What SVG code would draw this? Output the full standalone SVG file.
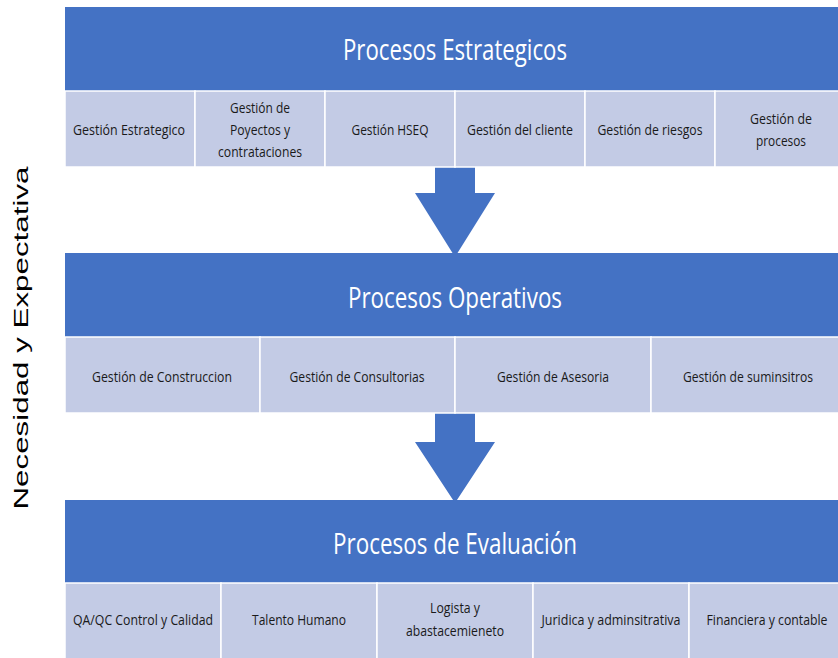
<svg xmlns="http://www.w3.org/2000/svg" width="838" height="658" viewBox="0 0 838 658">
<style>
.hdr{fill:#4472C4}
.cell{fill:#C3CBE5;stroke:#FFFFFF;stroke-width:1.5}
.title{font-family:"Open Sans","Liberation Sans",sans-serif;font-size:29px;fill:#FFFFFF;text-anchor:middle}
.t{font-family:"Open Sans","Liberation Sans",sans-serif;font-size:14.5px;fill:#1a1a1a;text-anchor:middle}
.arrow{fill:#4472C4}
.side{font-family:"Liberation Sans",Arial,sans-serif;font-size:21px;fill:#000000;text-anchor:middle}
</style>
<rect width="838" height="658" fill="#FFFFFF"/>

<g id="connectors">
  <polygon class="arrow" points="435,166 475,166 475,193 495,193 455,257 415,193 435,193"/>
  <polygon class="arrow" points="435,412 475,412 475,442 495,442 455,503 415,442 435,442"/>
</g>

<g id="estrategicos">
  <rect class="hdr" x="65" y="7" width="780" height="84"/>
  <text class="title" x="455" y="60" textLength="224" lengthAdjust="spacingAndGlyphs">Procesos Estrategicos</text>
</g>
<g id="est-1"><rect class="cell" x="65" y="91" width="130" height="76"/><text class="t" x="129" y="135" textLength="112" lengthAdjust="spacingAndGlyphs">Gestión Estrategico</text></g>
<g id="est-2"><rect class="cell" x="195" y="91" width="130" height="76"/>
  <text class="t" x="260" y="113" textLength="60" lengthAdjust="spacingAndGlyphs">Gestión de</text>
  <text class="t" x="260" y="135" textLength="60" lengthAdjust="spacingAndGlyphs">Poyectos y</text>
  <text class="t" x="260" y="157" textLength="84" lengthAdjust="spacingAndGlyphs">contrataciones</text></g>
<g id="est-3"><rect class="cell" x="325" y="91" width="130" height="76"/><text class="t" x="390" y="135" textLength="77" lengthAdjust="spacingAndGlyphs">Gestión HSEQ</text></g>
<g id="est-4"><rect class="cell" x="455" y="91" width="130" height="76"/><text class="t" x="520" y="135" textLength="106" lengthAdjust="spacingAndGlyphs">Gestión del cliente</text></g>
<g id="est-5"><rect class="cell" x="585" y="91" width="130" height="76"/><text class="t" x="650" y="135" textLength="105" lengthAdjust="spacingAndGlyphs">Gestión de riesgos</text></g>
<g id="est-6"><rect class="cell" x="715" y="91" width="130" height="76"/>
  <text class="t" x="781" y="124" textLength="62" lengthAdjust="spacingAndGlyphs">Gestión de</text>
  <text class="t" x="781" y="146" textLength="50" lengthAdjust="spacingAndGlyphs">procesos</text></g>

<g id="operativos">
  <rect class="hdr" x="65" y="253" width="780" height="84"/>
  <text class="title" x="455" y="308" textLength="214" lengthAdjust="spacingAndGlyphs">Procesos Operativos</text>
</g>
<g id="op-1"><rect class="cell" x="65" y="337" width="195" height="76"/><text class="t" x="162" y="382" textLength="140" lengthAdjust="spacingAndGlyphs">Gestión de Construccion</text></g>
<g id="op-2"><rect class="cell" x="260" y="337" width="195" height="76"/><text class="t" x="357" y="382" textLength="135" lengthAdjust="spacingAndGlyphs">Gestión de Consultorias</text></g>
<g id="op-3"><rect class="cell" x="455" y="337" width="196" height="76"/><text class="t" x="553" y="382" textLength="112" lengthAdjust="spacingAndGlyphs">Gestión de Asesoria</text></g>
<g id="op-4"><rect class="cell" x="651" y="337" width="194" height="76"/><text class="t" x="748" y="382" textLength="130" lengthAdjust="spacingAndGlyphs">Gestión de suminsitros</text></g>

<g id="evaluacion">
  <rect class="hdr" x="65" y="500" width="780" height="83"/>
  <text class="title" x="455" y="554" textLength="244" lengthAdjust="spacingAndGlyphs">Procesos de Evaluación</text>
</g>
<g id="ev-1"><rect class="cell" x="65" y="583" width="156" height="76"/><text class="t" x="143" y="625" textLength="140" lengthAdjust="spacingAndGlyphs">QA/QC Control y Calidad</text></g>
<g id="ev-2"><rect class="cell" x="221" y="583" width="156" height="76"/><text class="t" x="299" y="625" textLength="94" lengthAdjust="spacingAndGlyphs">Talento Humano</text></g>
<g id="ev-3"><rect class="cell" x="377" y="583" width="156" height="76"/>
  <text class="t" x="455" y="613" textLength="50" lengthAdjust="spacingAndGlyphs">Logista y</text>
  <text class="t" x="455" y="636" textLength="98" lengthAdjust="spacingAndGlyphs">abastacemieneto</text></g>
<g id="ev-4"><rect class="cell" x="533" y="583" width="156" height="76"/><text class="t" x="611" y="625" textLength="139" lengthAdjust="spacingAndGlyphs">Juridica y adminsitrativa</text></g>
<g id="ev-5"><rect class="cell" x="689" y="583" width="156" height="76"/><text class="t" x="767" y="625" textLength="121" lengthAdjust="spacingAndGlyphs">Financiera y contable</text></g>

<g id="side-label">
  <text class="side" transform="translate(28,338) rotate(-90)" textLength="343" lengthAdjust="spacingAndGlyphs">Necesidad y Expectativa</text>
</g>
</svg>
